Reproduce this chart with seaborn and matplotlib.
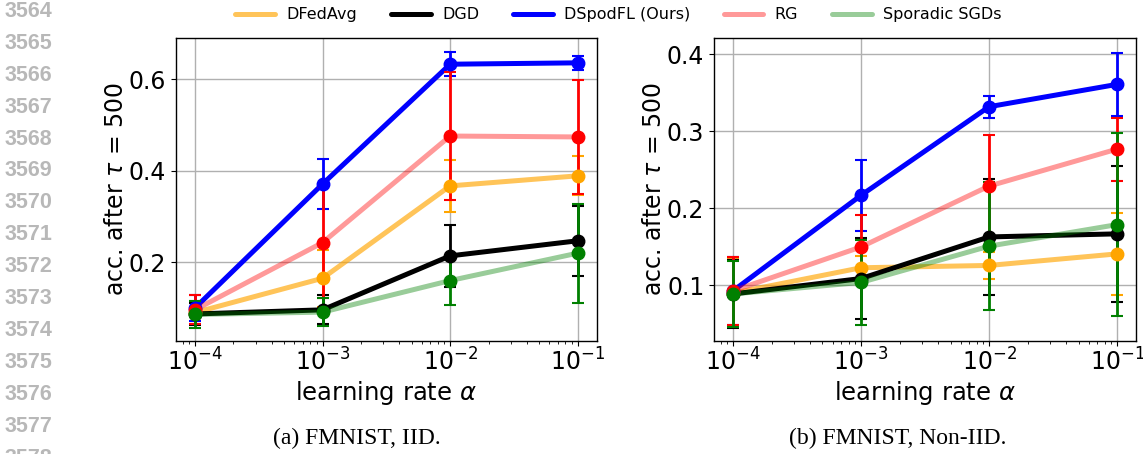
import numpy as np
import pandas as pd
import matplotlib
matplotlib.use('Agg')
import matplotlib.pyplot as plt
import seaborn as sns

lr = [1e-4, 1e-3, 1e-2, 1e-1]
methods = ['DFedAvg', 'DGD', 'DSpodFL (Ours)', 'RG', 'Sporadic SGDs']

# (a) FMNIST, IID
iid_mean = {
    'DFedAvg': [0.090, 0.165, 0.367, 0.389],
    'DGD': [0.087, 0.096, 0.214, 0.247],
    'DSpodFL (Ours)': [0.100, 0.371, 0.633, 0.636],
    'RG': [0.096, 0.243, 0.476, 0.474],
    'Sporadic SGDs': [0.086, 0.091, 0.160, 0.220],
}
iid_err = {
    'DFedAvg': [0.025, 0.062, 0.057, 0.043],
    'DGD': [0.025, 0.032, 0.067, 0.077],
    'DSpodFL (Ours)': [0.028, 0.055, 0.026, 0.016],
    'RG': [0.032, 0.122, 0.139, 0.124],
    'Sporadic SGDs': [0.030, 0.030, 0.053, 0.108],
}

# (b) FMNIST, Non-IID
niid_mean = {
    'DFedAvg': [0.090, 0.123, 0.126, 0.141],
    'DGD': [0.089, 0.109, 0.163, 0.167],
    'DSpodFL (Ours)': [0.093, 0.217, 0.332, 0.361],
    'RG': [0.093, 0.150, 0.229, 0.277],
    'Sporadic SGDs': [0.089, 0.104, 0.151, 0.179],
}
niid_err = {
    'DFedAvg': [0.044, 0.015, 0.018, 0.053],
    'DGD': [0.044, 0.052, 0.075, 0.088],
    'DSpodFL (Ours)': [0.044, 0.046, 0.014, 0.041],
    'RG': [0.044, 0.042, 0.066, 0.041],
    'Sporadic SGDs': [0.043, 0.055, 0.083, 0.119],
}

colors = {'DFedAvg': 'orange', 'DGD': 'black', 'DSpodFL (Ours)': 'blue',
          'RG': 'red', 'Sporadic SGDs': 'green'}
alphas = {'DFedAvg': 0.65, 'DGD': 1.0, 'DSpodFL (Ours)': 1.0,
          'RG': 0.4, 'Sporadic SGDs': 0.4}

sns.set_style('ticks')
plt.rcParams['font.family'] = ['DejaVu Sans']
plt.rcParams.update({'text.color': 'black', 'axes.labelcolor': 'black',
                     'xtick.color': 'black', 'ytick.color': 'black'})

fig = plt.figure(figsize=(11.43, 4.54), dpi=100)
ax1 = fig.add_axes([0.154, 0.249, 0.368, 0.667])
ax2 = fig.add_axes([0.6247, 0.249, 0.3692, 0.667])


def draw(ax, means, errs, ylim, yticks):
    for m in methods:
        df = pd.DataFrame({'lr': lr, 'acc': means[m]})
        sns.lineplot(data=df, x='lr', y='acc', ax=ax, color=colors[m],
                     alpha=alphas[m], linewidth=3.6, label=m, legend=False)
        ax.errorbar(lr, means[m], yerr=errs[m], fmt='o', color=colors[m],
                    markersize=9, elinewidth=2, capsize=4, capthick=1.5)
    ax.set_xscale('log')
    ax.set_xlim(10 ** -4.148, 10 ** -0.852)
    ax.set_ylim(*ylim)
    ax.set_yticks(yticks)
    ax.grid(True, which='major', color='#b0b0b0', linewidth=1)
    ax.set_xlabel(r'learning rate $\alpha$', fontsize=17.5, labelpad=2)
    ax.set_ylabel(r'acc. after $\tau$ = 500', fontsize=17, labelpad=1)
    ax.tick_params(axis='both', which='major', labelsize=17)
    ax.tick_params(axis='x', which='major', pad=2)
    for s in ax.spines.values():
        s.set_color('black')
        s.set_linewidth(1)


draw(ax1, iid_mean, iid_err, (0.028, 0.69), [0.2, 0.4, 0.6])
draw(ax2, niid_mean, niid_err, (0.028, 0.421), [0.1, 0.2, 0.3, 0.4])
ax1.yaxis.set_major_formatter(matplotlib.ticker.FormatStrFormatter('%.1f'))
ax2.yaxis.set_major_formatter(matplotlib.ticker.FormatStrFormatter('%.1f'))

handles, labels = ax1.get_legend_handles_labels()
fig.legend(handles, labels, loc='center', bbox_to_anchor=(0.541, 0.967),
           ncol=5, frameon=False, fontsize=11.5, handlelength=2.5,
           handletextpad=0.7, columnspacing=2.1)

fig.text(357 / 1143, 1 - 438 / 454, '(a) FMNIST, IID.', ha='center',
         va='center', fontsize=17, family='Liberation Serif')
fig.text(898 / 1143, 1 - 438 / 454, '(b) FMNIST, Non-IID.', ha='center',
         va='center', fontsize=17, family='Liberation Serif')

# line numbers of the page
for i, n in enumerate(range(3564, 3579)):
    fig.text(52 / 1143, 1 - (11.5 + 31.9 * i) / 454, str(n), ha='right',
             va='center', fontsize=15.5, fontweight='bold', color='#b8b8b8',
             family='Liberation Sans')

fig.savefig('out.png', dpi=100)
